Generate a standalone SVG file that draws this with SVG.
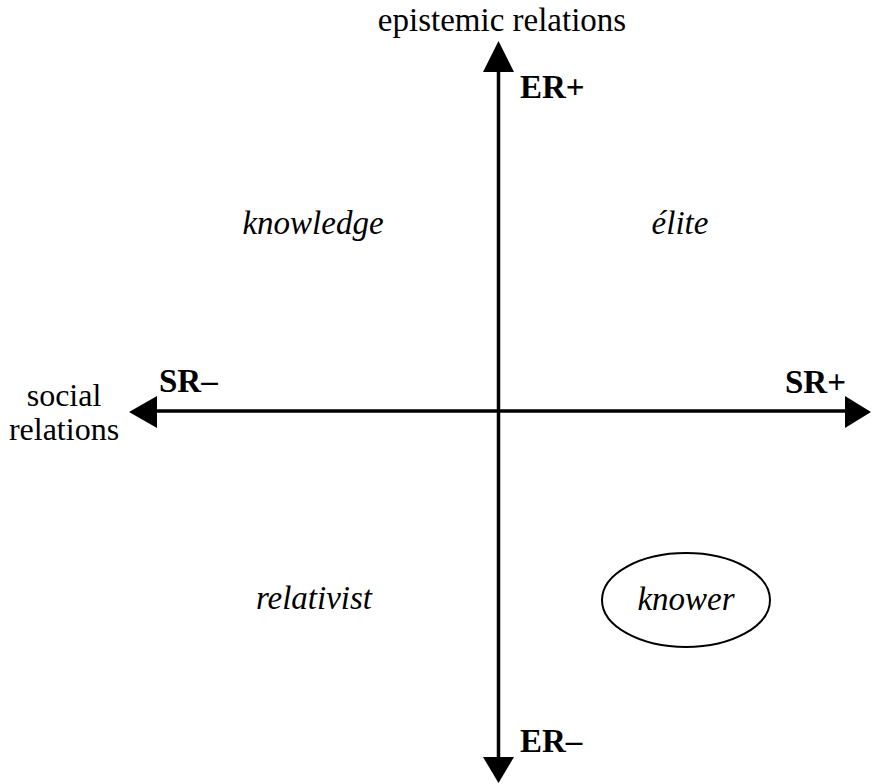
<svg xmlns="http://www.w3.org/2000/svg" width="872" height="784" viewBox="0 0 872 784">
<style>
text{font-family:"Liberation Serif","Times New Roman",serif;font-size:33px;fill:#000}
.b{font-weight:bold}
.i{font-style:italic}
.s{font-size:32px}
.ax{stroke:#000;stroke-width:3.5;fill:none}
.ah{fill:#000;stroke:none}
</style>
<rect width="872" height="784" fill="#fff"/>
<g id="connectors">
<line class="ax" x1="498.5" y1="70" x2="498.5" y2="757"/>
<line class="ax" x1="155" y1="411" x2="846" y2="411"/>
<polygon class="ah" points="498.5,41 483,72 514,72"/>
<polygon class="ah" points="498.5,783 483,757 514,757"/>
<polygon class="ah" points="129,412 157,396 157,428"/>
<polygon class="ah" points="871,412 845,396 845,428"/>
</g>
<g id="axis-er">
<text x="502" y="31" text-anchor="middle">epistemic relations</text>
<text class="b" x="520" y="98">ER+</text>
<text class="b" x="520" y="752">ER–</text>
</g>
<g id="axis-sr">
<text class="s" x="64" y="406" text-anchor="middle">social</text>
<text class="s" x="64" y="440" text-anchor="middle">relations</text>
<text class="b" x="159" y="392">SR–</text>
<text class="b" x="846" y="393" text-anchor="end">SR+</text>
</g>
<g id="knowledge"><text class="i" x="313" y="234" text-anchor="middle">knowledge</text></g>
<g id="elite"><text class="i" x="680" y="234" text-anchor="middle">élite</text></g>
<g id="relativist"><text class="i" x="314" y="609" text-anchor="middle">relativist</text></g>
<g id="knower">
<ellipse cx="686" cy="600" rx="84" ry="47" fill="none" stroke="#000" stroke-width="2"/>
<text class="i" x="686" y="610" text-anchor="middle">knower</text>
</g>
</svg>
